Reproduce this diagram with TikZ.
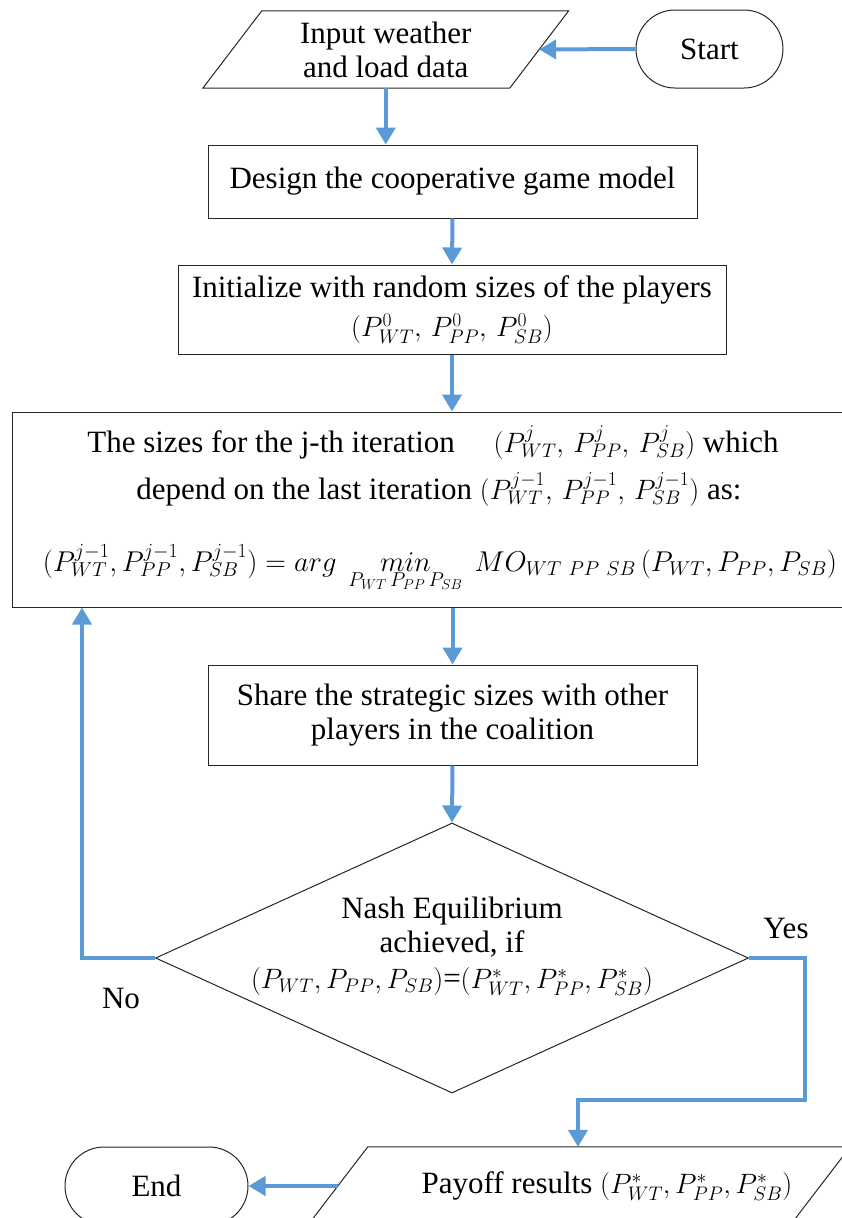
\RequirePackage{fix-cm}
\documentclass[tikz,border=0pt]{standalone}
\usepackage{fontspec}
\setmainfont{Liberation Serif}
\usetikzlibrary{shapes.geometric,shapes.misc,arrows.meta}
\definecolor{flowblue}{RGB}{91,155,213}
% formulas a little smaller than the running text
\newcommand{\mth}[1]{{\fontsize{28}{34}\selectfont$#1$}}
% slanted outline of a data block around a rectangular node: #1 node, #2 half slant
\newcommand{\dataframe}[2]{%
  \draw[frame] ([xshift=#2]#1.north west) -- ([xshift=#2]#1.north east)
    -- ([xshift=-#2]#1.south east) -- ([xshift=-#2]#1.south west) -- cycle;}
\tikzset{
  txt/.style={font=\fontsize{31}{34}\selectfont, text=black},
  frame/.style={draw=black!85, line width=1pt},
  box/.style={txt, frame, rectangle, align=center, inner sep=0pt},
  io/.style={txt, rectangle, align=center, inner sep=0pt},
  term/.style={txt, frame, rounded rectangle, inner sep=0pt},
  decision/.style={frame, diamond, aspect=2.2, inner sep=0pt},
  flow/.style={draw=flowblue, line width=4pt, -{Triangle[length=17pt,width=19pt]}},
}
\begin{document}
\begin{tikzpicture}[x=1pt,y=-1pt]
\clip (0,0) rectangle (842,1218);
\fill[white] (0,0) rectangle (842,1218);

% terminals and data blocks
\node[term, minimum width=147pt, minimum height=78pt] (start) at (709.5,49) {Start};
\node[io, minimum width=306.5pt, minimum height=77pt] (input) at (385.75,49.5) {Input weather\\and load data};
\dataframe{input}{29.5pt}
\node[term, minimum width=183pt, minimum height=78pt] (end) at (156.5,1186) {End};
\node[io, minimum width=482pt, minimum height=78pt] (payoff) at (579,1186)
  {\hspace*{56pt}Payoff results \mth{(P^*_{WT},P^*_{PP},P^*_{SB})}};
\dataframe{payoff}{30pt}

% process steps
\node[box, minimum width=489pt, minimum height=73pt] (design) at (452.5,181.5)
  {Design the cooperative game model};
\node[box, minimum width=548pt, minimum height=89pt] (init) at (452,309.5)
  {Initialize with random sizes of the players\\[5pt]\mth{(P^0_{WT},\, P^0_{PP},\, P^0_{SB})}};
\node[box, minimum width=846pt, minimum height=195pt] (iter) at (435,509.5) {};
\node[txt, anchor=base] (iterA) at (433,452)
  {The sizes for the j-th iteration\quad\ \mth{(P^j_{WT},\, P^j_{PP},\, P^j_{SB})} which};
\node[txt, anchor=base] (iterB) at (439,499)
  {depend on the last iteration \mth{(P^{j-1}_{WT},\, P^{j-1}_{PP},\, P^{j-1}_{SB})} as:};
\node[txt, anchor=base] (iterC) at (440,571)
  {{\fontsize{28.6}{34}\selectfont$(P^{j-1}_{WT},P^{j-1}_{PP},P^{j-1}_{SB}) = arg\ \mathop{min}\limits_{P_{WT}\,P_{PP}\,P_{SB}}\ MO_{WT\ PP\ SB}\,(P_{WT},P_{PP},P_{SB})$}};
\node[box, minimum width=489pt, minimum height=100pt] (share) at (452.5,715)
  {Share the strategic sizes with other\\players in the coalition};

% decision
\node[decision, minimum width=593pt, minimum height=270pt] (nash) at (452,958) {};
\node[txt, align=center] (nashtext) at (452,946)
  {Nash Equilibrium\\achieved, if\\[2pt]\mth{(P_{WT},P_{PP},P_{SB})}=\mth{(P^*_{WT},P^*_{PP},P^*_{SB})}};
\node[txt] (yes) at (786,928) {Yes};
\node[txt] (no) at (121,998) {No};

% bends of the feedback and exit lines
\coordinate (nobend) at (82,958);
\coordinate (yes1) at (805,958);
\coordinate (yes2) at (805,1100);
\coordinate (yes3) at (578,1100);

% connectors
\draw[flow] (start.west) -- (input.east);
\draw[flow] (input.south) -- (input.south |- design.north);
\draw[flow] (design.south) -- (init.north);
\draw[flow] (init.south) -- (init.south |- iter.north);
\draw[flow] (share.north |- iter.south) -- (share.north);
\draw[flow] (share.south) -- (nash.north);
\draw[flow] (nash.west) -- (nobend) -- (nobend |- iter.south);
\draw[flow] (nash.east) -- (yes1) -- (yes2) -- (yes3) -- (yes3 |- payoff.north);
\draw[flow] (payoff.west) -- (end.east);
\end{tikzpicture}
\end{document}
